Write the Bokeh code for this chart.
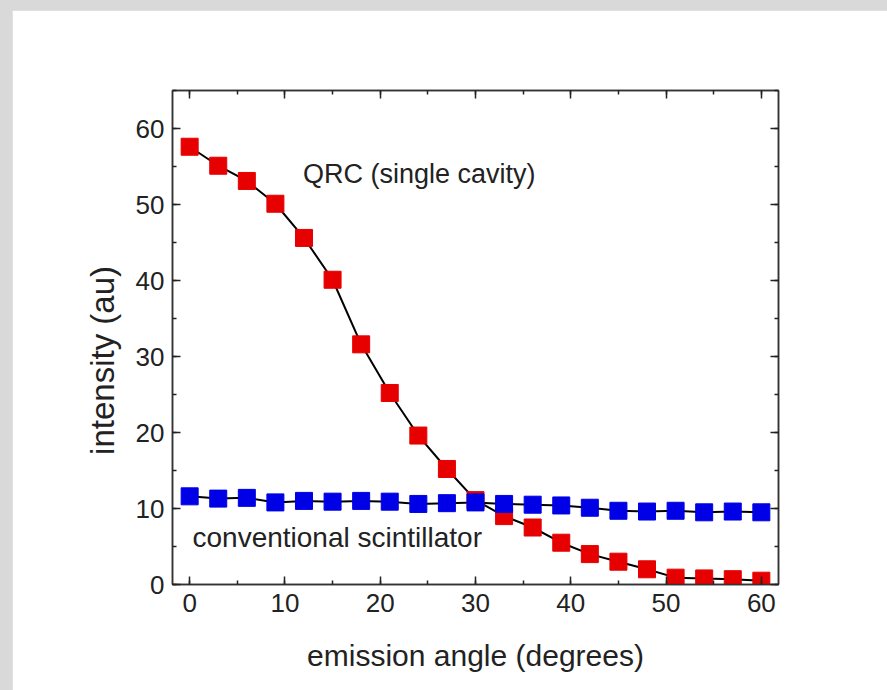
from bokeh.plotting import figure
from bokeh.models import LinearAxis, SingleIntervalTicker, Range1d, Label
from bokeh.embed import file_html
from bokeh.resources import INLINE

angle = [0, 3, 6, 9, 12, 15, 18, 21, 24, 27, 30, 33, 36, 39, 42, 45, 48, 51, 54, 57, 60]
qrc = [57.6, 55.1, 53.1, 50.1, 45.6, 40.1, 31.6, 25.2, 19.6, 15.2, 11.1, 9.0, 7.5, 5.5, 4.0, 3.0, 2.0, 0.9, 0.8, 0.7, 0.5]
conventional = [11.6, 11.3, 11.4, 10.8, 11.0, 10.9, 11.0, 10.9, 10.6, 10.7, 10.8, 10.6, 10.5, 10.4, 10.1, 9.7, 9.6, 9.7, 9.5, 9.6, 9.5]
x_ticks_interval = 10
y_ticks_interval = 10

FONT = "Liberation Sans"

p = figure(width=875, height=680, output_backend="svg", toolbar_location=None,
           x_range=Range1d(-1.8, 61.8), y_range=Range1d(0, 65),
           min_border_left=160, min_border_right=109, min_border_top=80, min_border_bottom=106,
           background_fill_color="white", border_fill_color="white")
p.grid.visible = False
p.outline_line_color = "#333333"
p.outline_line_width = 1.5

p.add_layout(LinearAxis(), "above")
p.add_layout(LinearAxis(), "right")

for ax in p.xaxis:
    ax.ticker = SingleIntervalTicker(interval=x_ticks_interval, num_minor_ticks=2)
for ax in p.yaxis:
    ax.ticker = SingleIntervalTicker(interval=y_ticks_interval, num_minor_ticks=2)

for ax in p.axis:
    ax.major_tick_in = 8
    ax.major_tick_out = 0
    ax.minor_tick_in = 4
    ax.minor_tick_out = 0
    ax.axis_line_color = "#333333"
    ax.axis_line_width = 1.5
    ax.major_tick_line_color = "#222222"
    ax.major_tick_line_width = 1.5
    ax.minor_tick_line_color = "#222222"
    ax.minor_tick_line_width = 1.5
    ax.major_label_text_font = FONT
    ax.major_label_text_font_size = "26px"
    ax.major_label_text_color = "#222222"
    ax.axis_label_text_font = FONT
    ax.axis_label_text_font_size = "30px"
    ax.axis_label_text_font_style = "normal"
    ax.axis_label_text_color = "#222222"

# mirrored axes: no labels
p.above[0].major_label_text_alpha = 0
p.above[0].major_label_text_font_size = "1px"
p.right[0].major_label_text_alpha = 0
p.right[0].major_label_text_font_size = "1px"

p.below[0].axis_label = "emission angle (degrees)"
p.below[0].major_label_standoff = 9
p.below[0].axis_label_standoff = 24
p.left[0].major_label_standoff = 8
# trailing no-break spaces nudge the centred title a little below the frame centre
p.left[0].axis_label = "intensity (au)" + "\u00a0" * 5
p.left[0].axis_label_text_font_size = "33px"
p.left[0].axis_label_standoff = 12

p.line(angle, qrc, line_color="black", line_width=2)
p.line(angle, conventional, line_color="black", line_width=2)
p.scatter(angle, qrc, marker="square", size=17, fill_color="#e60000", line_color="#e60000")
p.scatter(angle, conventional, marker="square", size=17, fill_color="#0000e6", line_color="#0000e6")

p.add_layout(Label(x=11.9, y=54.0, text="QRC (single cavity)", text_font=FONT,
                   text_font_size="27px", text_color="#222222", text_baseline="middle"))
p.add_layout(Label(x=0.3, y=6.2, text="conventional scintillator", text_font=FONT,
                   text_font_size="28px", text_color="#222222", text_baseline="middle"))

html = file_html(p, INLINE)
html = html.replace("</head>", "<style>html,body{background:#d9d9d9;margin:0;padding:0;} body{padding:10px 0 0 12px;}</style></head>", 1)
open("out.html", "w").write(html)
